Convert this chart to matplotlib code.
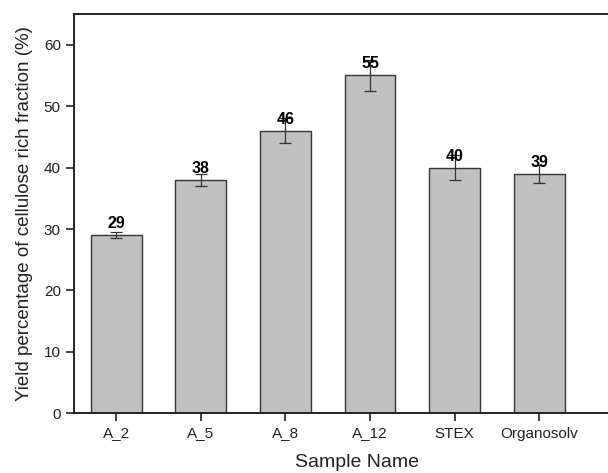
import matplotlib
matplotlib.use("Agg")
import matplotlib.pyplot as plt
import numpy as np

plt.rcParams["font.family"] = ["Liberation Sans", "DejaVu Sans"]

samples = ["A_2", "A_5", "A_8", "A_12", "STEX", "Organosolv"]
yield_pct = [29, 38, 46, 55, 40, 39]
yield_err = [0.5, 1.0, 2.0, 2.5, 2.0, 1.5]

fig = plt.figure(figsize=(6.08, 4.73), dpi=100)
# axes run past the right edge of the figure, so the right spine is cut off
ax = fig.add_axes([0.1217, 0.1262, 0.932, 0.8442])

x = np.arange(1, len(samples) + 1)
ax.bar(x, yield_pct, width=0.6, color="#c0c0c0", edgecolor="#333333",
       linewidth=1.0, zorder=2)
ax.errorbar(x, yield_pct, yerr=yield_err, fmt="none", ecolor="#333333",
            elinewidth=0.9, capsize=4, capthick=0.9, zorder=3)

for xi, v in zip(x, yield_pct):
    ax.annotate(f"{v}", (xi, v), xytext=(0, 5), textcoords="offset points",
                ha="center", va="baseline", fontsize=11.5, fontweight="bold",
                zorder=4)

ax.set_xlim(0.5, 7.2)
ax.set_ylim(0, 65)
ax.set_yticks([0, 10, 20, 30, 40, 50, 60])
ax.set_xticks(x)
ax.set_xticklabels(samples)

for side in ["left", "bottom", "top", "right"]:
    ax.spines[side].set_linewidth(1.4)
    ax.spines[side].set_color("#222222")

ax.tick_params(axis="both", direction="out", length=6, width=1.2,
               labelsize=11, color="#222222", labelcolor="#222222")
ax.tick_params(top=False, right=False)

ax.set_xlabel("Sample Name", fontsize=14, color="#222222", labelpad=10)
ax.set_ylabel("Yield percentage of cellulose rich fraction (%)", fontsize=13.5,
              color="#222222", labelpad=8)

fig.savefig("out.png", dpi=100)
